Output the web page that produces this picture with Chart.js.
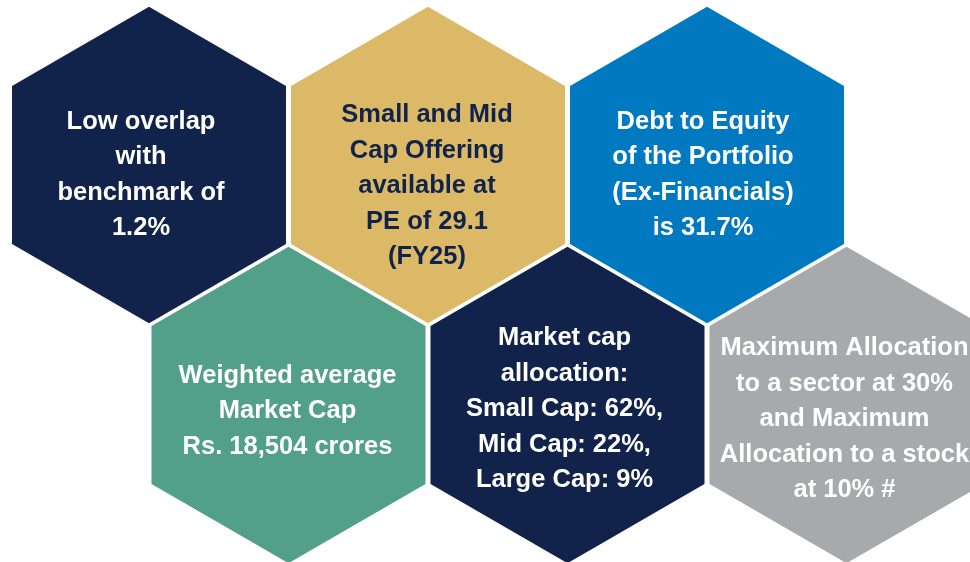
<!DOCTYPE html>
<html>
<head>
<meta charset="utf-8">
<script src="https://cdn.jsdelivr.net/npm/chart.js@4.4.1/dist/chart.umd.min.js"></script>
<style>
  html, body { margin: 0; padding: 0; background: #ffffff; }
  #wrap { width: 970px; height: 562px; position: relative; }
</style>
</head>
<body>
<div id="wrap"><canvas id="c" width="970" height="562"></canvas></div>
<script>
// ---- content ----
const highlights = [
  ["Low overlap", "with", "benchmark of", "1.2%"],
  ["Small and Mid", "Cap Offering", "available at", "PE of 29.1", "(FY25)"],
  ["Debt to Equity", "of the Portfolio", "(Ex-Financials)", "is 31.7%"],
  ["Weighted average", "Market Cap", "Rs. 18,504 crores"],
  ["Market cap", "allocation:", "Small Cap: 62%,", "Mid Cap: 22%,", "Large Cap: 9%"],
  ["Maximum Allocation", "to a sector at 30%", "and Maximum", "Allocation to a stock", "at 10% #"]
];
// honeycomb cell (column, row) of each highlight
const columns = [0, 1, 2, 0.5, 1.5, 2.5];
const rows    = [0, 0, 0, 1, 1, 1];

// ---- styles ----
const fills      = ["#11234a", "#dcb967", "#0179c1", "#52a087", "#11234a", "#a8a9ac"];
const textColors = ["#ffffff", "#11234a", "#ffffff", "#ffffff", "#ffffff", "#ffffff"];
const textShift  = [[-8, 8], [-1, 19], [-4, 8], [-1, 4], [-3, 2], [-2, 12]];
const GAP = 5;
const FONT_SIZE = 25.5;
const LINE_H = 35.5;
const FONT = 'bold ' + FONT_SIZE + 'px "Liberation Sans", Arial, sans-serif';

const hexPlugin = {
  id: 'hexagons',
  afterDatasetsDraw(chart) {
    const ctx = chart.ctx;
    const xs = chart.scales.x;
    const pitch = xs.getPixelForValue(1) - xs.getPixelForValue(0);
    const R = (pitch - GAP) / Math.sqrt(3);
    const meta = chart.getDatasetMeta(0);
    ctx.save();
    meta.data.forEach((pt, i) => {
      const cx = pt.x, cy = pt.y;
      ctx.beginPath();
      for (let k = 0; k < 6; k++) {
        const a = -Math.PI / 2 + k * Math.PI / 3;
        const px = cx + R * Math.cos(a), py = cy + R * Math.sin(a);
        if (k === 0) ctx.moveTo(px, py); else ctx.lineTo(px, py);
      }
      ctx.closePath();
      ctx.fillStyle = fills[i];
      ctx.fill();

      const lines = highlights[i];
      const tx = cx + textShift[i][0];
      const mid = cy + textShift[i][1];
      ctx.font = FONT;
      ctx.fillStyle = textColors[i];
      ctx.textAlign = 'center';
      ctx.textBaseline = 'alphabetic';
      const first = mid - (lines.length - 1) / 2 * LINE_H;
      lines.forEach((ln, j) => {
        ctx.fillText(ln, tx, first + j * LINE_H + FONT_SIZE * 0.716 / 2);
      });
    });
    ctx.restore();
  }
};

const points = columns.map((c, i) => ({ x: c, y: rows[i] }));

new Chart(document.getElementById('c'), {
  type: 'scatter',
  data: {
    datasets: [{
      data: points,
      pointRadius: 0,
      pointHoverRadius: 0,
      showLine: false
    }]
  },
  options: {
    responsive: false,
    animation: false,
    devicePixelRatio: 1,
    layout: { padding: 0 },
    events: [],
    plugins: { legend: { display: false }, tooltip: { enabled: false } },
    scales: {
      x: { type: 'linear', display: false, min: -149 / 279, max: (970 - 149) / 279 },
      y: { type: 'linear', display: false, reverse: true, min: -165 / 240, max: (562 - 165) / 240 }
    }
  },
  plugins: [hexPlugin]
});
</script>
</body>
</html>
